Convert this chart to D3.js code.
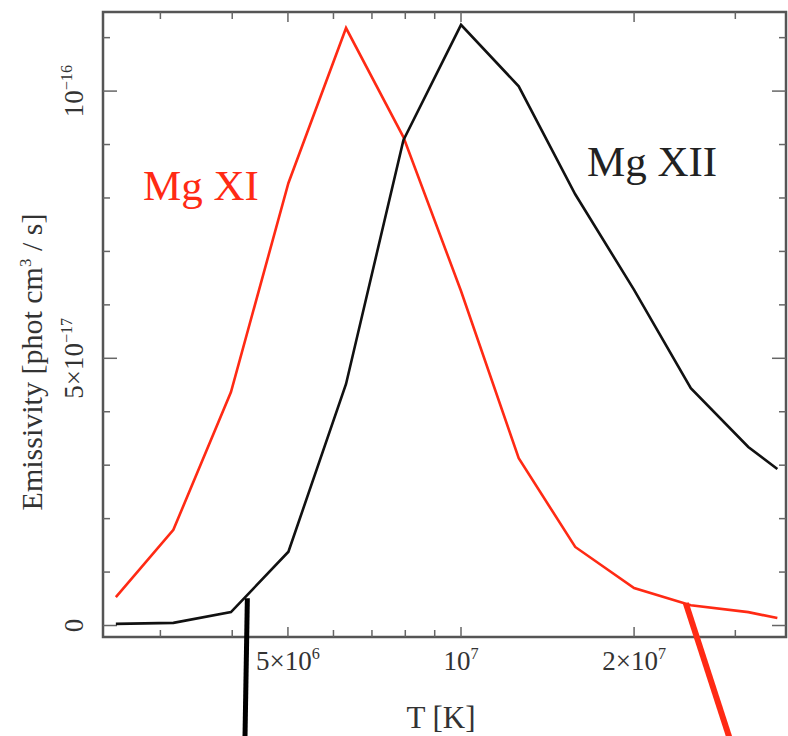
<!DOCTYPE html>
<html><head><meta charset="utf-8">
<script src="https://cdn.jsdelivr.net/npm/d3@7/dist/d3.min.js"></script>
<style>body{margin:0;background:#fff}svg{display:block}text{font-family:"Liberation Serif","DejaVu Serif",serif}</style>
</head><body><svg id="c" width="788" height="736"></svg>
<script>
// Temperature grid [K]
const temperatures = [2.51e6, 3.16e6, 3.98e6, 5.01e6, 6.31e6, 7.94e6, 1.0e7, 1.26e7, 1.58e7, 2.0e7, 2.51e7, 3.16e7, 3.55e7];
// Emissivity in units of 1e-17 phot cm^3 / s
const mgXI  = [0.53, 1.79, 4.37, 8.28, 11.18, 9.14, 6.26, 3.13, 1.47, 0.70, 0.38, 0.25, 0.14];
const mgXII = [0.03, 0.05, 0.25, 1.38, 4.52, 9.08, 11.24, 10.09, 8.07, 6.28, 4.44, 3.34, 2.93];
// Axis ticks
const xMajorTicks = [5e6, 1e7, 2e7];
const xMajorLabels = [["5×10", "6"], ["10", "7"], ["2×10", "7"]];
const xMinorTicks = [3e6, 4e6, 6e6, 7e6, 8e6, 9e6, 3e7];
const yMajorTicks = [0, 5, 10];
const yMajorLabels = [["0", ""], ["5×10", "−17"], ["10", "−16"]];
const yMinorTicks = [1, 2, 3, 4, 6, 7, 8, 9, 11];
// Pointer annotations (data coords: [T, emissivity])
const blackPointer = [[4.25e6, 0.51], [4.21e6, -2.1]];
const redPointer = [[2.46e7, 0.42], [2.93e7, -2.1]];

const RED = "#ff2a14";
const svg = d3.select("#c");
const L = 103, R = 786, T = 12, B = 637;
const x = d3.scaleLog().domain([2.384e6, 3.675e7]).range([L, R]);
const y = d3.scaleLinear().domain([-0.215, 11.48]).range([B, T]);

// frame
svg.append("rect").attr("x", L).attr("y", T).attr("width", R - L).attr("height", B - T)
  .attr("fill", "none").attr("stroke", "#555").attr("stroke-width", 2.5);

// x ticks (bottom & top, inward)
const g = svg.append("g").attr("stroke", "#666").attr("stroke-width", 1.5);
function xt(v, len) {
  g.append("line").attr("x1", x(v)).attr("x2", x(v)).attr("y1", B).attr("y2", B - len);
  g.append("line").attr("x1", x(v)).attr("x2", x(v)).attr("y1", T).attr("y2", T + len);
}
xMajorTicks.forEach(v => xt(v, 10));
xMinorTicks.forEach(v => xt(v, 7));
function yt(v, len) {
  g.append("line").attr("y1", y(v)).attr("y2", y(v)).attr("x1", L).attr("x2", L + len);
  g.append("line").attr("y1", y(v)).attr("y2", y(v)).attr("x1", R).attr("x2", R - len);
}
yMajorTicks.forEach(v => yt(v, 14));
yMinorTicks.forEach(v => yt(v, 7));

// tick labels
const FS = 27;
xMajorTicks.forEach((v, i) => {
  const t = svg.append("text").attr("x", x(v)).attr("y", 670).attr("text-anchor", "middle")
    .attr("font-size", FS).attr("fill", "#333");
  t.append("tspan").text(xMajorLabels[i][0]);
  t.append("tspan").attr("dy", -11).attr("font-size", FS * 0.6).text(xMajorLabels[i][1]);
});
yMajorTicks.forEach((v, i) => {
  const t = svg.append("text").attr("transform", `translate(83,${y(v)}) rotate(-90)`)
    .attr("text-anchor", "middle").attr("font-size", FS).attr("fill", "#333");
  t.append("tspan").text(yMajorLabels[i][0]);
  if (yMajorLabels[i][1]) t.append("tspan").attr("dy", -11).attr("font-size", FS * 0.6).text(yMajorLabels[i][1]);
});

// axis titles
svg.append("text").attr("x", 441).attr("y", 728).attr("text-anchor", "middle")
  .attr("font-size", 31).attr("fill", "#333").text("T [K]");
const yl = svg.append("text").attr("transform", "translate(42,362) rotate(-90)")
  .attr("text-anchor", "middle").attr("font-size", 30).attr("fill", "#333");
yl.append("tspan").text("Emissivity [phot cm");
yl.append("tspan").attr("dy", -11).attr("font-size", 17).text("3");
yl.append("tspan").attr("dy", 11).text(" / s]");

// series lines
const line = d3.line().x(d => x(d[0])).y(d => y(d[1]));
svg.append("path").datum(temperatures.map((t, i) => [t, mgXI[i]]))
  .attr("d", line).attr("fill", "none").attr("stroke", RED).attr("stroke-width", 2.6);
svg.append("path").datum(temperatures.map((t, i) => [t, mgXII[i]]))
  .attr("d", line).attr("fill", "none").attr("stroke", "#111").attr("stroke-width", 2.6);

// series labels
svg.append("text").attr("x", 143).attr("y", 200).attr("font-size", 43).attr("fill", RED).text("Mg XI");
svg.append("text").attr("x", 587).attr("y", 176).attr("font-size", 43).attr("fill", "#222").text("Mg XII");

// pointers
svg.append("path").datum(blackPointer).attr("d", line).attr("stroke", "#000").attr("stroke-width", 5).attr("fill", "none");
svg.append("path").datum(redPointer).attr("d", line).attr("stroke", RED).attr("stroke-width", 6).attr("fill", "none");
</script></body></html>
